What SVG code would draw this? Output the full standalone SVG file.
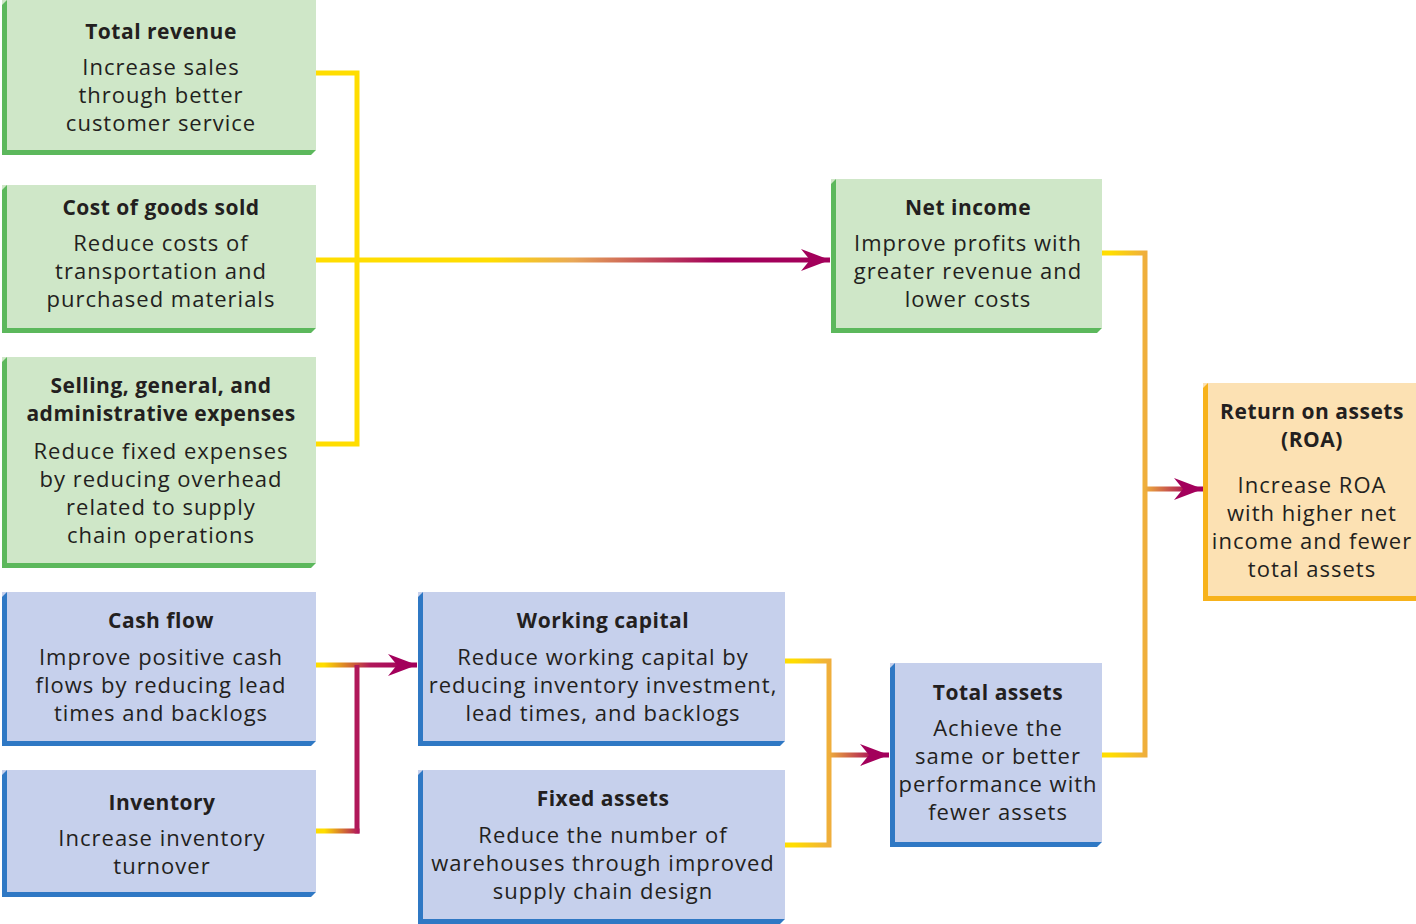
<svg xmlns="http://www.w3.org/2000/svg" width="1416" height="924" viewBox="0 0 1416 924">
<style>
text{font-family:"Open Sans","Noto Sans","Liberation Sans",sans-serif;font-size:22px;letter-spacing:1px;fill:#231f20;text-anchor:middle}
.t{font-weight:bold;font-size:21px;letter-spacing:0.5px}
.gf{fill:#cfe7c8}.gb{fill:#5cb85c}
.bf{fill:#c6d0ec}.bb{fill:#2f78c4}
.of{fill:#fce1b3}.ob{fill:#f7b21b}
.c{fill:none;stroke-width:5}
</style>
<defs>
<marker id="ah" markerUnits="userSpaceOnUse" markerWidth="30" markerHeight="24" refX="29" refY="12" orient="auto">
<path d="M0,1 L29,12 L0,23 L9,12 Z" fill="#a3005b"/>
</marker>
<linearGradient id="gMain" gradientUnits="userSpaceOnUse" x1="316" y1="0" x2="830" y2="0">
<stop offset="0" stop-color="#ffdd00"/><stop offset="0.34" stop-color="#ffdd00"/><stop offset="0.5" stop-color="#e9a857"/><stop offset="0.78" stop-color="#a3005b"/><stop offset="1" stop-color="#a3005b"/>
</linearGradient>
<linearGradient id="gNI" gradientUnits="userSpaceOnUse" x1="1102" y1="0" x2="1145" y2="0">
<stop offset="0.2" stop-color="#ffdd00"/><stop offset="1" stop-color="#efae3c"/>
</linearGradient>
<linearGradient id="gWC" gradientUnits="userSpaceOnUse" x1="785" y1="0" x2="829" y2="0">
<stop offset="0.2" stop-color="#ffdd00"/><stop offset="1" stop-color="#efae3c"/>
</linearGradient>
<linearGradient id="gROA" gradientUnits="userSpaceOnUse" x1="1145" y1="0" x2="1203" y2="0">
<stop offset="0" stop-color="#efae3c"/><stop offset="0.8" stop-color="#a3005b"/>
</linearGradient>
<linearGradient id="gTA" gradientUnits="userSpaceOnUse" x1="829" y1="0" x2="889" y2="0">
<stop offset="0" stop-color="#efae3c"/><stop offset="0.8" stop-color="#a3005b"/>
</linearGradient>
<linearGradient id="gCF" gradientUnits="userSpaceOnUse" x1="316" y1="0" x2="415" y2="0">
<stop offset="0.08" stop-color="#ffdd00"/><stop offset="0.55" stop-color="#b0185a"/><stop offset="1" stop-color="#a3005b"/>
</linearGradient>
<linearGradient id="gInv" gradientUnits="userSpaceOnUse" x1="316" y1="0" x2="358" y2="0">
<stop offset="0.2" stop-color="#ffdd00"/><stop offset="1" stop-color="#b0185a"/>
</linearGradient>
</defs>

<g id="connectors">
<path class="c" stroke="#ffdd00" d="M316,73 H357 V444 H316"/>
<path class="c" stroke="url(#gMain)" d="M316,260 H830" marker-end="url(#ah)"/>
<path class="c" stroke="url(#gNI)" d="M1102,253 H1145 V755 H1102"/>
<path class="c" stroke="url(#gROA)" d="M1145,489 H1203" marker-end="url(#ah)"/>
<path class="c" stroke="url(#gWC)" d="M785,661 H829 V845 H785"/>
<path class="c" stroke="url(#gTA)" d="M829,755 H889" marker-end="url(#ah)"/>
<path class="c" stroke="url(#gCF)" d="M316,665 H417" marker-end="url(#ah)"/>
<path class="c" stroke="#b0185a" d="M357,665 V833.5"/>
<path class="c" stroke="url(#gInv)" d="M316,831 H359.5"/>
</g>

<g id="total-revenue">
<rect class="gf" x="2" y="0" width="314" height="150"/>
<polygon class="gb" points="2,5 7,0 7,155 2,155"/>
<polygon class="gb" points="2,150 316,150 311,155 2,155"/>
<text class="t" x="161" y="39">Total revenue</text>
<text x="161" y="75">Increase sales</text>
<text x="161" y="103">through better</text>
<text x="161" y="131">customer service</text>
</g>

<g id="cogs">
<rect class="gf" x="2" y="185" width="314" height="143"/>
<polygon class="gb" points="2,190 7,185 7,333 2,333"/>
<polygon class="gb" points="2,328 316,328 311,333 2,333"/>
<text class="t" x="161" y="215">Cost of goods sold</text>
<text x="161" y="251">Reduce costs of</text>
<text x="161" y="279">transportation and</text>
<text x="161" y="307">purchased materials</text>
</g>

<g id="sga">
<rect class="gf" x="2" y="357" width="314" height="206"/>
<polygon class="gb" points="2,362 7,357 7,568 2,568"/>
<polygon class="gb" points="2,563 316,563 311,568 2,568"/>
<text class="t" x="161" y="393">Selling, general, and</text>
<text class="t" x="161" y="421">administrative expenses</text>
<text x="161" y="459">Reduce fixed expenses</text>
<text x="161" y="487">by reducing overhead</text>
<text x="161" y="515">related to supply</text>
<text x="161" y="543">chain operations</text>
</g>

<g id="net-income">
<rect class="gf" x="831" y="179" width="271" height="149"/>
<polygon class="gb" points="831,184 836,179 836,333 831,333"/>
<polygon class="gb" points="831,328 1102,328 1097,333 831,333"/>
<text class="t" x="968" y="215">Net income</text>
<text x="968" y="251">Improve profits with</text>
<text x="968" y="279">greater revenue and</text>
<text x="968" y="307">lower costs</text>
</g>

<g id="roa">
<rect class="of" x="1203" y="383" width="213" height="213"/>
<polygon class="ob" points="1203,388 1208,383 1208,601 1203,601"/>
<polygon class="ob" points="1203,596 1416,596 1416,601 1203,601"/>
<text class="t" x="1312" y="419">Return on assets</text>
<text class="t" x="1312" y="447">(ROA)</text>
<text x="1312" y="493">Increase ROA</text>
<text x="1312" y="521">with higher net</text>
<text x="1312" y="549">income and fewer</text>
<text x="1312" y="577">total assets</text>
</g>

<g id="cash-flow">
<rect class="bf" x="2" y="592" width="314" height="149"/>
<polygon class="bb" points="2,597 7,592 7,746 2,746"/>
<polygon class="bb" points="2,741 316,741 311,746 2,746"/>
<text class="t" x="161" y="628">Cash flow</text>
<text x="161" y="665">Improve positive cash</text>
<text x="161" y="693">flows by reducing lead</text>
<text x="161" y="721">times and backlogs</text>
</g>

<g id="inventory">
<rect class="bf" x="2" y="770" width="314" height="122"/>
<polygon class="bb" points="2,775 7,770 7,897 2,897"/>
<polygon class="bb" points="2,892 316,892 311,897 2,897"/>
<text class="t" x="162" y="810">Inventory</text>
<text x="162" y="846">Increase inventory</text>
<text x="162" y="874">turnover</text>
</g>

<g id="working-capital">
<rect class="bf" x="418" y="592" width="367" height="149"/>
<polygon class="bb" points="418,597 423,592 423,746 418,746"/>
<polygon class="bb" points="418,741 785,741 780,746 418,746"/>
<text class="t" x="603" y="628">Working capital</text>
<text x="603" y="665">Reduce working capital by</text>
<text x="603" y="693">reducing inventory investment,</text>
<text x="603" y="721">lead times, and backlogs</text>
</g>

<g id="fixed-assets">
<rect class="bf" x="418" y="770" width="367" height="149"/>
<polygon class="bb" points="418,775 423,770 423,924 418,924"/>
<polygon class="bb" points="418,919 785,919 780,924 418,924"/>
<text class="t" x="603" y="806">Fixed assets</text>
<text x="603" y="843">Reduce the number of</text>
<text x="603" y="871">warehouses through improved</text>
<text x="603" y="899">supply chain design</text>
</g>

<g id="total-assets">
<rect class="bf" x="890" y="663" width="212" height="179"/>
<polygon class="bb" points="890,668 895,663 895,847 890,847"/>
<polygon class="bb" points="890,842 1102,842 1097,847 890,847"/>
<text class="t" x="998" y="700">Total assets</text>
<text x="998" y="736">Achieve the</text>
<text x="998" y="764">same or better</text>
<text x="998" y="792">performance with</text>
<text x="998" y="820">fewer assets</text>
</g>
</svg>
